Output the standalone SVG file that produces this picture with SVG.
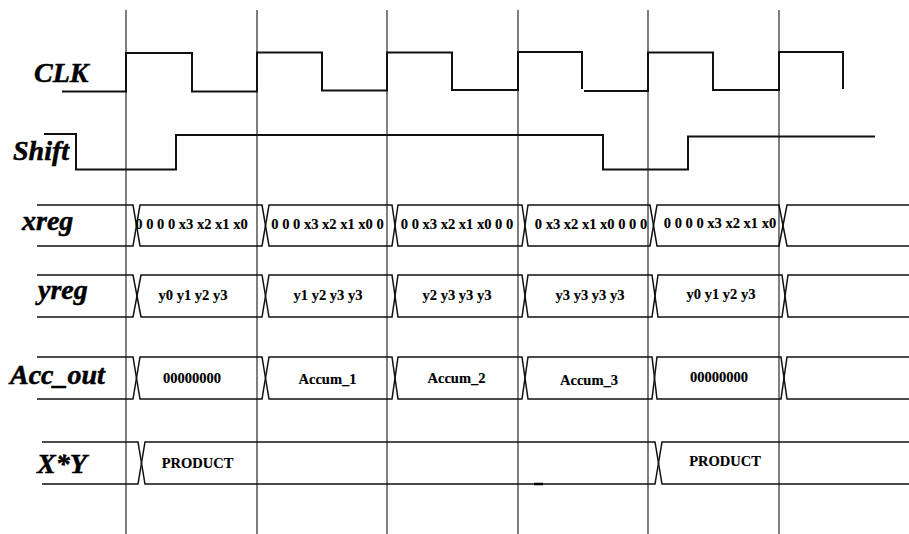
<svg xmlns="http://www.w3.org/2000/svg" width="909" height="534" viewBox="0 0 909 534">
<style>
.grid{stroke:#3a3a3a;stroke-width:1.3;fill:none}
.wave{stroke:#111;stroke-width:2;fill:none;stroke-linejoin:miter}
.bus{stroke:#111;stroke-width:1.5;fill:none;stroke-linejoin:miter}
.lbl{font-weight:bold;font-style:italic;font-size:28px;fill:#000;stroke:#000;stroke-width:0.5}
.val{font-weight:bold;font-size:14.5px;fill:#000;text-anchor:middle;stroke:#000;stroke-width:0.15}
</style>
<rect width="909" height="534" fill="#fff"/>
<g id="connectors">
<line class="grid" x1="126" y1="10" x2="126" y2="534"/>
<line class="grid" x1="257" y1="10" x2="257" y2="534"/>
<line class="grid" x1="387" y1="10" x2="387" y2="534"/>
<line class="grid" x1="518" y1="10" x2="518" y2="534"/>
<line class="grid" x1="648" y1="10" x2="648" y2="534"/>
<line class="grid" x1="779" y1="10" x2="779" y2="534"/>
</g>
<g font-family="'Liberation Serif', 'DejaVu Serif', serif">
<g id="clk">
<text class="lbl" x="34" y="82">CLK</text>
<path class="wave" d="M62,91.5 H126 V53 H192 V91.5 H257 V52.5 H322 V90.5 H387 V52.5 H452 V90 H518 V52 H582 V89"/>
<path class="wave" d="M584,91 H648 V52.5 H713 V90 H779 V52 H843 V89"/>
</g>
<g id="shift">
<text class="lbl" x="13" y="160">Shift</text>
<path class="wave" d="M44,134 H76 V169.5 H176 V135 H603 V169.5 H688 V136.5 H875"/>
</g>
<g id="xreg">
<text class="lbl" x="22" y="230">xreg</text>
<path class="bus" d="M37,205 H133 L140,246 H262 L269,205 H392 L398,246 H522 L528,205 H650 L657,246 H779 L787,205 H909"/>
<path class="bus" d="M37,246 H133 L140,205 H262 L269,246 H392 L398,205 H522 L528,246 H650 L657,205 H779 L787,246 H909"/>
<text class="val" x="191.5" y="229">0 0 0 0 x3 x2 x1 x0</text>
<text class="val" x="327.5" y="229">0 0 0 x3 x2 x1 x0 0</text>
<text class="val" x="457" y="229">0 0 x3 x2 x1 x0 0 0</text>
<text class="val" x="591" y="229">0 x3 x2 x1 x0 0 0 0</text>
<text class="val" x="720" y="228">0 0 0 0 x3 x2 x1 x0</text>
</g>
<g id="yreg">
<text class="lbl" x="38" y="299">yreg</text>
<path class="bus" d="M37,275 H133 L141,317 H262 L269,275 H392 L398,317 H522 L528,275 H652 L658,317 H782 L788,275 H909"/>
<path class="bus" d="M37,317 H133 L141,275 H262 L269,317 H392 L398,275 H522 L528,317 H652 L658,275 H782 L788,317 H909"/>
<text class="val" x="193" y="300">y0 y1 y2 y3</text>
<text class="val" x="328" y="300">y1 y2 y3 y3</text>
<text class="val" x="457" y="300">y2 y3 y3 y3</text>
<text class="val" x="590" y="300">y3 y3 y3 y3</text>
<text class="val" x="721" y="299">y0 y1 y2 y3</text>
</g>
<g id="acc_out">
<text class="lbl" x="10" y="384">Acc_out</text>
<path class="bus" d="M37,357 H133 L140,399 H262 L269,357 H392 L398,399 H522 L528,357 H652 L657,399 H781 L787,357 H909"/>
<path class="bus" d="M37,399 H133 L140,357 H262 L269,399 H392 L398,357 H522 L528,399 H652 L657,357 H781 L787,399 H909"/>
<text class="val" x="192" y="383">00000000</text>
<text class="val" x="327.5" y="384">Accum_1</text>
<text class="val" x="456.5" y="383">Accum_2</text>
<text class="val" x="589" y="384.5">Accum_3</text>
<text class="val" x="719" y="382">00000000</text>
</g>
<g id="xy">
<text class="lbl" x="37" y="473">X*Y</text>
<path class="bus" d="M42,442 H138 L145,484 H655 L662,442 H909"/>
<path class="bus" d="M42,484 H138 L145,442 H655 L662,484 H909"/>
<line x1="534" y1="484" x2="543" y2="484" stroke="#000" stroke-width="2.5"/>
<text class="val" x="197.5" y="468">PRODUCT</text>
<text class="val" x="725" y="466">PRODUCT</text>
</g>
</g>
</svg>
